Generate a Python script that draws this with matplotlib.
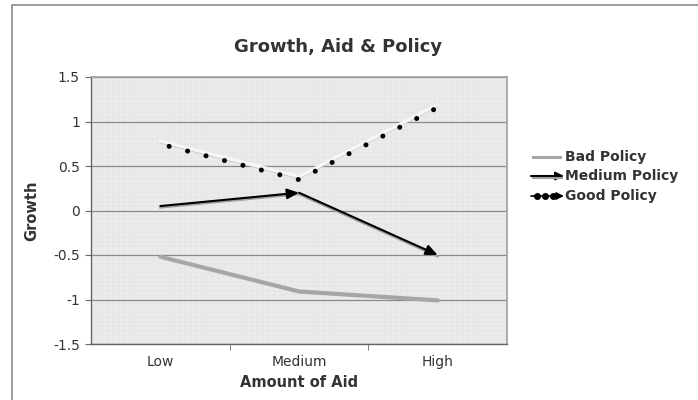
import matplotlib
matplotlib.use("Agg")
import matplotlib.pyplot as plt
from matplotlib.patches import Rectangle
from matplotlib.lines import Line2D
from matplotlib.transforms import ScaledTranslation

plt.rcParams['font.family'] = ['DejaVu Sans']

categories = ["Low", "Medium", "High"]
bad_policy = [-0.52, -0.91, -1.01]
medium_policy = [0.05, 0.20, -0.50]
good_policy = [0.78, 0.38, 1.19]
y_ticks = [-1.5, -1, -0.5, 0, 0.5, 1, 1.5]
y_tick_labels = ["-1.5", "-1", "-0.5", "0", "0.5", "1", "1.5"]
series_names = ["Bad Policy", "Medium Policy", "Good Policy"]

TEXT = "#333333"
W, H = 698, 400
fig = plt.figure(figsize=(W / 100, H / 100), dpi=100)
fig.patch.set_facecolor("white")

# chart-area frame
fig.add_artist(Rectangle((12 / W, -0.2), 2.0, 1.2 - 5 / H, transform=fig.transFigure,
                         fill=False, edgecolor="#8a8a8a", lw=1.2))

ax = fig.add_axes([91 / W, 1 - 344 / H, (507 - 91) / W, (344 - 77) / H])
ax.set_facecolor("#ebebeb")
x = list(range(len(categories)))

# faint fine mesh in the plot area
for xv in [i * 0.04 - 0.5 for i in range(76)]:
    ax.axvline(xv, color="#e0e0e0", lw=0.35, zorder=0)
for yv in [i * 0.05 - 1.5 for i in range(61)]:
    ax.axhline(yv, color="#e2e2e2", lw=0.35, zorder=0)

ax.set_xlim(-0.5, 2.5)
ax.set_ylim(-1.5, 1.5)
ax.set_yticks(y_ticks)
ax.set_yticklabels(y_tick_labels)
ax.set_xticks(x)
ax.set_xticklabels(categories)
ax.set_xticks([0.5, 1.5], minor=True)
ax.tick_params(axis="x", which="major", length=0, pad=8, labelsize=10, labelcolor=TEXT)
ax.tick_params(axis="x", which="minor", length=4, color="#666666", direction="out")
ax.tick_params(axis="y", length=4, color="#666666", pad=4, labelsize=10, labelcolor=TEXT)
ax.yaxis.grid(True, color="#8a8a8a", lw=0.9, zorder=1)
ax.set_axisbelow(True)
for side in ["top", "right"]:
    ax.spines[side].set_color("#a0a0a0")
    ax.spines[side].set_linewidth(1.2)
for side in ["left", "bottom"]:
    ax.spines[side].set_color("#666666")
    ax.spines[side].set_linewidth(1.0)

down = lambda px: ax.transData + ScaledTranslation(0, -px / 100, fig.dpi_scale_trans)

# Bad policy: thick grey line
ax.plot(x, bad_policy, color="#a6a6a6", lw=3.0, solid_capstyle="round", zorder=3)

# Medium policy: black arrows with soft shadow
ax.plot(x, medium_policy, color="#a0a0a0", lw=1.6, transform=down(1.5), zorder=3)
for i in range(len(x) - 1):
    ax.annotate("", xy=(x[i + 1], medium_policy[i + 1]), xytext=(x[i], medium_policy[i]),
                arrowprops=dict(arrowstyle="-|>,head_length=0.5,head_width=0.22",
                                color="black", lw=1.5, mutation_scale=14,
                                shrinkA=0, shrinkB=0), zorder=4)

# Good policy: pale line with round dots just beneath it
ax.plot(x, good_policy, color="#bdbdbd", lw=1.2, transform=down(1.5), zorder=3)
ax.plot(x, good_policy, color="#f6f6f6", lw=2.4, zorder=3)
ax.plot(x, good_policy, color="black", lw=3.6, linestyle=(2, (0.01, 3.8)),
        dash_capstyle="round", transform=down(3), zorder=4)

ax.set_ylabel("Growth", fontsize=10.5, fontweight="bold", color=TEXT, labelpad=10)
ax.set_xlabel("Amount of Aid", fontsize=10.5, fontweight="bold", color=TEXT, labelpad=4)
fig.text(338 / W, 1 - 47 / H, "Growth, Aid & Policy", ha="center", va="center",
         fontsize=13, fontweight="bold", color=TEXT)

# legend
ly = [157, 176, 196]
fx = lambda px: px / W
fy = lambda py: 1 - py / H
fig.add_artist(Line2D([fx(533), fx(560)], [fy(ly[0]), fy(ly[0])], color="#a6a6a6", lw=2.2,
                      transform=fig.transFigure))
fig.add_artist(Line2D([fx(533), fx(562)], [fy(ly[1]) - 0.004, fy(ly[1]) - 0.004],
                      color="#a0a0a0", lw=1.5, transform=fig.transFigure))
ax.annotate("", xy=(fx(564), fy(ly[1])), xytext=(fx(531), fy(ly[1])), xycoords="figure fraction",
            textcoords="figure fraction",
            arrowprops=dict(arrowstyle="-|>", color="black", lw=1.5, mutation_scale=12,
                            shrinkA=0, shrinkB=0), annotation_clip=False)
ax.annotate("", xy=(fx(564), fy(ly[2])), xytext=(fx(531), fy(ly[2])), xycoords="figure fraction",
            textcoords="figure fraction",
            arrowprops=dict(arrowstyle="-|>", color="black", lw=1.2, mutation_scale=11,
                            shrinkA=0, shrinkB=0), annotation_clip=False)
fig.add_artist(Line2D([fx(537), fx(545), fx(553)], [fy(ly[2])] * 3, color="black", lw=0,
                      marker="o", markersize=4, transform=fig.transFigure))
for name, yy in zip(series_names, ly):
    fig.text(fx(565), fy(yy), name, ha="left", va="center", fontsize=10,
             fontweight="bold", color=TEXT)

fig.savefig("out.png", dpi=100)
